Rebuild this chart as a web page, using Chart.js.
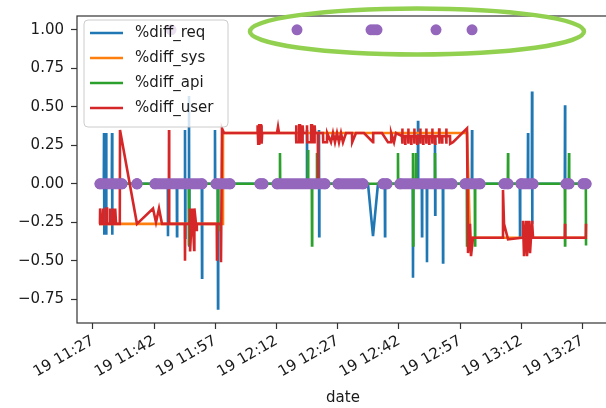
<!DOCTYPE html>
<html>
<head>
<meta charset="utf-8">
<script src="https://cdn.jsdelivr.net/npm/chart.js@4.4.1/dist/chart.umd.min.js"></script>
<style>
  html, body { margin: 0; padding: 0; background: #fff; overflow: hidden; }
  #wrap { width: 620px; height: 408px; }
</style>
</head>
<body>
<div id="wrap"><canvas id="chart" width="620" height="408"></canvas></div>
<script>
// time is in minutes after 11:00 on day 19
const xTicks = [27, 42, 57, 72, 87, 102, 117, 132, 147];
const xTickLabels = ["19 11:27", "19 11:42", "19 11:57", "19 12:12", "19 12:27",
                     "19 12:42", "19 12:57", "19 13:12", "19 13:27"];
const yTicks = [-0.75, -0.5, -0.25, 0, 0.25, 0.5, 0.75, 1.0];

const seriesNames = ["%diff_req", "%diff_sys", "%diff_api", "%diff_user"];
const seriesColors = ["#1f77b4", "#ff7f0e", "#2ca02c", "#d62728"];
const flagColor = "#9467bd";

// [time, value]
const diffReq = [
  [28.47,0],
  [29.65,0],[29.70,0.33],[29.75,-0.33],[29.80,0],
  [30.14,0],[30.19,0.33],[30.24,-0.33],[30.29,0],
  [31.61,0],[31.66,0.33],[31.71,-0.33],[31.76,0],
  [45.33,0],[45.38,-0.34],[45.43,0],
  [47.54,0],[47.59,-0.34],[47.64,0],
  [49.50,0],[49.55,0.35],[49.60,-0.35],[49.65,0],
  [50.48,0],[50.53,0.57],[50.58,-0.40],[50.63,0],
  [53.67,0],[53.72,-0.61],[53.77,0],
  [56.85,0],[56.90,0.35],[56.95,0],
  [57.59,0],[57.64,-0.81],[57.69,0],
  [79.40,0],[79.45,0.35],[79.50,0],
  [82.34,0],[82.39,0.35],[82.44,-0.34],[82.49,0],
  [94.40,0],[95.63,-0.34],[96.85,0],
  [98.52,0],[98.57,-0.34],[98.62,0],
  [105.38,0],[105.43,-0.61],[105.48,0],
  [106.61,0],[106.66,0.41],[106.71,0],
  [107.59,0],[107.64,-0.34],[107.69,0],
  [108.81,0],[108.86,-0.51],[108.91,0],
  [110.77,0],[110.82,0.28],[110.87,-0.20],[110.92,0],
  [112.74,0],[112.79,-0.51],[112.84,0],
  [119.85,0],[119.90,0.35],[119.95,0],
  [131.61,0],[131.66,-0.34],[131.71,0],
  [133.57,0],[133.62,0.33],[133.67,0],
  [134.55,0],[134.60,0.60],[134.65,-0.26],[134.70,0],
  [142.64,0],[142.69,0.51],[142.74,0],
  [147.84,0]
];

const diffSys = [
  [28.47,-0.26],[58.62,-0.26],[58.86,0.33],[118.67,0.33],[119.41,-0.35],[147.84,-0.35]
];

const diffApi = [
  [28.47,0],
  [50.48,0],[50.53,-0.40],[50.58,0],
  [57.59,0],[57.64,-0.30],[57.69,0],
  [72.78,0],[72.83,0.20],[72.88,0],
  [79.65,0],[79.70,0.22],[79.75,0],
  [80.63,0],[80.68,-0.40],[80.73,0],
  [81.85,0],[81.90,0.20],[81.95,0],
  [101.70,0],[101.75,0.20],[101.80,0],
  [105.38,0],[105.43,0.20],[105.48,-0.40],[105.53,0],
  [106.12,0],[106.17,0.20],[106.22,0],
  [110.77,0],[110.82,0.20],[110.87,0],
  [118.62,0],[118.67,-0.40],[118.72,0],
  [120.58,0],[120.63,-0.40],[120.68,0],
  [128.67,0],[128.72,0.20],[128.77,0],
  [142.64,0],[142.69,-0.40],[142.74,0],
  [143.62,0],[143.67,0.20],[143.72,0],
  [147.79,0],[147.84,-0.40]
];

const diffUser = [
  [28.47,-0.26],
  [28.70,-0.26],[28.75,-0.16],[28.96,-0.16],[29.01,-0.26],
  [29.45,-0.26],[29.50,-0.16],[29.55,-0.26],
  [30.19,-0.26],[30.24,-0.16],[30.45,-0.16],[30.50,-0.26],
  [31.17,-0.26],[31.22,-0.16],[31.27,-0.26],
  [31.90,-0.26],[31.95,-0.16],[32.00,-0.26],
  [32.39,-0.26],[32.44,-0.16],[32.60,-0.16],[32.65,-0.26],
  [33.57,-0.26],[33.62,0.35],
  [37.78,-0.26],
  [41.71,-0.16],[42.44,-0.25],[43.18,-0.16],[43.91,-0.26],
  [45.58,-0.26],[45.63,0.35],[45.68,-0.26],
  [49.50,-0.26],[49.55,-0.50],[49.60,-0.26],
  [50.70,-0.26],[50.75,-0.16],[50.80,-0.44],[51.30,-0.16],[51.80,-0.43],[51.85,-0.16],[52.40,-0.30],[52.45,-0.26],
  [57.34,-0.26],[57.39,-0.50],[57.44,-0.26],
  [58.32,-0.26],[58.37,-0.51],[58.62,0.36],[59.11,0.33],
  [67.20,0.33],[67.25,0.38],[67.44,0.38],[67.49,0.26],[67.69,0.26],[67.74,0.38],[68.18,0.38],[68.23,0.26],[68.42,0.26],[68.47,0.33],
  [72.10,0.33],[72.35,0.37],[72.59,0.33],
  [76.76,0.33],[76.80,0.38],[76.85,0.27],[77.49,0.27],[77.54,0.38],[77.74,0.38],[77.79,0.27],[78.23,0.27],[78.28,0.38],[78.47,0.38],[78.52,0.33],
  [79.40,0.33],[79.45,0.38],[79.50,0.27],[80.43,0.27],[80.48,0.38],[80.68,0.38],[80.73,0.27],[81.17,0.27],[81.22,0.38],[81.41,0.38],[81.46,0.33],
  [82.10,0.33],[82.15,0.03],[82.20,0.33],
  [83.37,0.33],[83.42,0.27],[84.35,0.27],[84.40,0.33],[85.33,0.27],[85.82,0.33],[86.31,0.27],[86.80,0.33],[87.29,0.27],[87.78,0.33],[88.27,0.27],[89.01,0.33],
  [90.48,0.33],[90.53,0.27],[91.46,0.33],[93.42,0.33],[95.63,0.27],[95.68,0.33],[97.83,0.33],[99.30,0.27],[100.04,0.27],[100.09,0.33],[100.78,0.27],[101.26,0.33],
  [102.74,0.31],[102.79,0.36],[102.84,0.26],[102.89,0.31],
  [103.47,0.31],[103.52,0.26],[103.57,0.31],
  [104.21,0.31],[104.26,0.36],[104.31,0.26],[104.36,0.31],
  [104.94,0.31],[104.99,0.26],[105.04,0.31],
  [105.68,0.31],[105.73,0.36],[105.78,0.26],[105.83,0.31],
  [106.41,0.31],[106.46,0.26],[106.51,0.31],
  [107.15,0.31],[107.20,0.36],[107.25,0.26],[107.30,0.31],
  [107.88,0.31],[107.93,0.26],[107.98,0.31],
  [108.62,0.31],[108.67,0.36],[108.72,0.26],[108.77,0.31],
  [109.35,0.31],[109.40,0.26],[109.45,0.31],
  [110.09,0.31],[110.14,0.36],[110.19,0.26],[110.24,0.31],
  [110.82,0.31],[110.87,0.26],[110.92,0.31],
  [111.80,0.31],[111.85,0.36],[111.90,0.26],[111.95,0.31],
  [112.54,0.31],[112.59,0.26],[112.64,0.31],
  [113.52,0.31],[113.57,0.36],[113.62,0.26],[113.67,0.31],
  [114.50,0.31],[114.55,0.26],
  [115.24,0.27],[118.67,0.36],[118.92,-0.45],[119.41,-0.26],[119.65,-0.47],[120.14,-0.35],
  [127.25,-0.35],[127.49,-0.04],[127.74,-0.26],[128.72,-0.36],
  [132.15,-0.35],[132.39,-0.24],[132.64,-0.47],[133.13,-0.24],[133.37,-0.47],[133.86,-0.24],[134.11,-0.45],[134.60,-0.24],[134.85,-0.35],
  [142.64,-0.35],[142.69,-0.26],[142.74,-0.35],
  [147.79,-0.35],[147.84,-0.26]
];

// runs of the flag sitting at 0 (start / end), and the moments it hits 1
const flatStart = [28.72, 37.78, 42.20, 57.15, 67.93, 72.10, 87.05, 98.08, 102.24, 118.18, 127.74, 131.90, 142.93, 147.10];
const flatEnd   = [34.11, 37.78, 53.72, 60.58, 68.67, 83.86, 93.18, 99.06, 114.99, 121.85, 128.72, 134.85, 143.67, 147.84];
const flagOneTimes = [46.12, 77.00, 95.14, 95.87, 96.61, 111.07, 119.90];

const FONT = "'DejaVu Sans', sans-serif";

function toPoints(arr) {
  return arr.map(function (p) { return {x: p[0], y: p[1]}; });
}

var flatPoints = [];
for (var i = 0; i < flatStart.length; i++) {
  flatPoints.push({x: flatStart[i], y: 0});
  flatPoints.push({x: flatEnd[i], y: 0});
  flatPoints.push({x: flatEnd[i] + 0.01, y: null});
}

var lineSets = [diffReq, diffSys, diffApi, diffUser].map(function (d, k) {
  return {
    label: seriesNames[k],
    data: toPoints(d),
    borderColor: seriesColors[k],
    borderWidth: 2.6,
    pointRadius: 0,
    tension: 0,
    order: 4 - k
  };
});

// legend, spines and the hand-drawn ellipse
var decor = {
  id: 'decor',
  afterDatasetsDraw: function (chart) {
    var ctx = chart.ctx;
    ctx.save();
    // legend box
    var bx = 84, by = 20, bw = 144, bh = 107, r = 4;
    ctx.beginPath();
    ctx.moveTo(bx + r, by);
    ctx.arcTo(bx + bw, by, bx + bw, by + bh, r);
    ctx.arcTo(bx + bw, by + bh, bx, by + bh, r);
    ctx.arcTo(bx, by + bh, bx, by, r);
    ctx.arcTo(bx, by, bx + bw, by, r);
    ctx.closePath();
    ctx.fillStyle = 'rgba(255,255,255,0.8)';
    ctx.fill();
    ctx.strokeStyle = '#cccccc';
    ctx.lineWidth = 1;
    ctx.stroke();
    ctx.font = '15px ' + FONT;
    ctx.textBaseline = 'middle';
    ctx.fillStyle = '#1a1a1a';
    seriesNames.forEach(function (name, k) {
      var y = 33 + k * 25;
      ctx.strokeStyle = seriesColors[k];
      ctx.lineWidth = 2.6;
      ctx.beginPath();
      ctx.moveTo(90, y);
      ctx.lineTo(123, y);
      ctx.stroke();
      ctx.fillText(name, 135, y);
    });
    ctx.restore();
  },
  afterDraw: function (chart) {
    var ctx = chart.ctx, a = chart.chartArea;
    ctx.save();
    ctx.strokeStyle = '#333';
    ctx.lineWidth = 1.2;
    ctx.strokeRect(a.left, a.top, a.right - a.left, a.bottom - a.top);
    // green annotation ellipse around the flags at 1
    var cx = chart.scales.x.getPixelForValue(106.4);
    var cy = chart.scales.y.getPixelForValue(0.99);
    ctx.strokeStyle = '#92d050';
    ctx.lineWidth = 4.5;
    ctx.beginPath();
    ctx.ellipse(cx, cy, 167, 23, 0, 0, Math.PI * 2);
    ctx.stroke();
    ctx.restore();
  }
};

new Chart(document.getElementById('chart'), {
  type: 'line',
  data: {
    datasets: lineSets.concat([
      {
        label: 'flag',
        data: flatPoints,
        borderColor: flagColor,
        backgroundColor: flagColor,
        borderWidth: 11,
        borderCapStyle: 'round',
        borderJoinStyle: 'round',
        pointRadius: 5.5,
        pointBorderWidth: 0,
        pointBackgroundColor: flagColor,
        spanGaps: false,
        order: 0
      },
      {
        label: 'flag1',
        data: flagOneTimes.map(function (t) { return {x: t, y: 1}; }),
        showLine: false,
        pointRadius: 5.5,
        pointBorderWidth: 0,
        pointBackgroundColor: flagColor,
        order: 0
      }
    ])
  },
  options: {
    responsive: false,
    animation: false,
    events: [],
    layout: { padding: { top: 12, right: 11, left: 0, bottom: 0 } },
    plugins: { legend: { display: false }, tooltip: { enabled: false } },
    scales: {
      x: {
        type: 'linear',
        min: 23.08,
        max: 153.47,
        afterFit: function (s) { s.height = 85; },
        afterBuildTicks: function (s) { s.ticks = xTicks.map(function (v) { return {value: v}; }); },
        border: { display: false },
        grid: { drawOnChartArea: false, drawTicks: true, tickLength: 6, tickColor: '#333', tickWidth: 1.2 },
        ticks: {
          autoSkip: false,
          minRotation: 30,
          maxRotation: 30,
          padding: 3,
          color: '#1a1a1a',
          font: { family: FONT, size: 15 },
          callback: function (v) { return xTickLabels[xTicks.indexOf(v)]; }
        },
        title: { display: true, text: 'date', color: '#1a1a1a', font: { family: FONT, size: 15 }, padding: { top: 0, bottom: 1 } }
      },
      y: {
        min: -0.904,
        max: 1.09,
        afterFit: function (s) { s.width = 77; },
        afterBuildTicks: function (s) { s.ticks = yTicks.map(function (v) { return {value: v}; }); },
        border: { display: false },
        grid: { drawOnChartArea: false, drawTicks: true, tickLength: 6, tickColor: '#333', tickWidth: 1.2 },
        ticks: {
          padding: 7,
          color: '#1a1a1a',
          font: { family: FONT, size: 15 },
          callback: function (v) { return v.toFixed(2).replace('-', '\u2212'); }
        }
      }
    }
  },
  plugins: [decor]
});
</script>
</body>
</html>
